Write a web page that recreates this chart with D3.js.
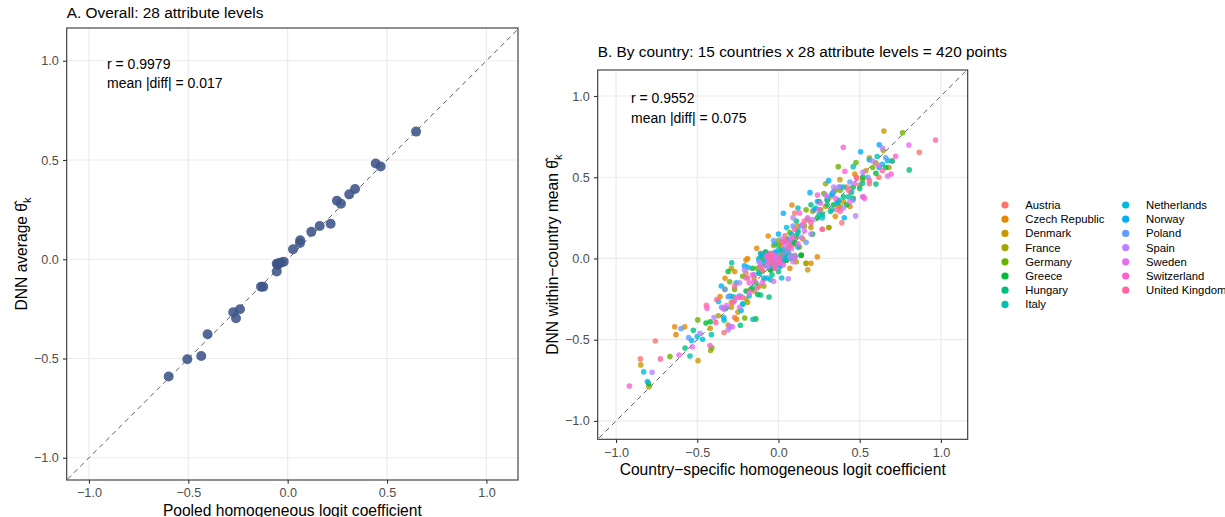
<!DOCTYPE html>
<html><head><meta charset="utf-8">
<script src="https://cdn.jsdelivr.net/npm/d3@7"></script>
<style>
body{margin:0;background:#fff;}
svg{display:block;font-family:"Liberation Sans",Arial,Helvetica,sans-serif;}
</style></head><body>
<svg id="chart" width="1225" height="517"></svg>
<script>
// ---------------- DATA ----------------
const countries = ["Austria","Czech Republic","Denmark","France","Germany","Greece","Hungary","Italy",
  "Netherlands","Norway","Poland","Spain","Sweden","Switzerland","United Kingdom"];
const countryColors = ["#F8766D","#E58700","#C99800","#A3A500","#6BB100","#00BA38","#00BF7D","#00C0AF",
  "#00BCD8","#00B0F6","#619CFF","#B983FF","#E76BF3","#FD61D1","#FF67A4"];

// Panel A: 28 attribute levels (pooled logit coefficient, DNN average)
const pooledX = [-0.599,-0.505,-0.435,-0.403,-0.274,-0.260,-0.240,-0.134,-0.123,-0.055,-0.055,-0.050,-0.045,-0.035,
  -0.020,0.027,0.062,0.063,0.119,0.161,0.216,0.248,0.268,0.310,0.339,0.443,0.468,0.646];
const pooledY = [-0.591,-0.504,-0.487,-0.378,-0.267,-0.297,-0.252,-0.138,-0.138,-0.062,-0.022,-0.028,-0.020,-0.017,
  -0.012,0.050,0.082,0.096,0.138,0.168,0.179,0.295,0.280,0.327,0.354,0.482,0.467,0.643];

// Panel B: one row per attribute level, one value per country (order of `countries`)
const levelX = [
 [-0.850,-0.631,-0.848,-0.797,-0.668,-0.800,-0.524,-0.545,-0.830,-0.807,-0.600,-0.778,-0.612,-0.918,-0.727],
 [-0.758,-0.639,-0.495,-0.418,-0.497,-0.446,-0.575,-0.413,-0.500,-0.535,-0.553,-0.483,-0.530,-0.422,-0.385],
 [-0.335,-0.577,-0.420,-0.370,-0.410,-0.420,-0.235,-0.335,-0.467,-0.337,-0.300,-0.310,-0.283,-0.440,-0.444],
 [-0.270,-0.257,-0.290,-0.190,-0.208,-0.140,-0.280,-0.157,-0.370,-0.300,-0.310,-0.397,-0.320,-0.260,-0.380],
 [-0.190,-0.360,-0.290,-0.170,-0.270,-0.200,-0.058,-0.325,-0.220,-0.352,-0.240,-0.270,-0.340,-0.240,-0.220],
 [-0.330,-0.310,-0.250,-0.330,-0.300,-0.128,-0.110,-0.220,-0.180,-0.230,-0.350,-0.300,-0.240,-0.180,-0.280],
 [-0.150,-0.329,-0.200,-0.290,-0.220,-0.310,-0.160,-0.288,-0.260,-0.190,-0.330,-0.240,-0.180,-0.200,-0.270],
 [-0.090,-0.270,-0.120,-0.090,-0.130,-0.050,-0.040,-0.120,-0.090,-0.070,-0.150,-0.210,-0.030,-0.150,-0.110],
 [-0.200,-0.200,-0.150,-0.170,-0.100,-0.080,-0.140,-0.050,0.020,-0.210,-0.060,0.060,-0.100,-0.160,-0.130],
 [-0.040,0.070,0.180,0.170,-0.050,0.050,0.000,-0.120,-0.080,0.100,-0.030,-0.070,0.090,-0.020,-0.100],
 [-0.060,0.200,-0.010,-0.100,0.050,0.140,-0.020,-0.090,-0.030,-0.050,-0.110,-0.040,-0.070,-0.010,-0.040],
 [0.000,-0.190,-0.060,-0.020,-0.100,0.030,-0.120,-0.010,-0.060,0.020,-0.080,0.010,-0.030,-0.050,-0.020],
 [-0.030,-0.134,0.040,-0.080,-0.040,-0.160,0.060,-0.110,0.010,-0.100,0.030,-0.120,0.100,-0.030,-0.060],
 [0.050,-0.040,-0.090,0.020,-0.070,0.080,-0.080,0.040,-0.120,0.010,-0.020,0.070,-0.060,0.010,0.010],
 [-0.110,0.030,0.100,0.110,0.010,-0.030,0.020,0.070,0.050,-0.020,0.060,-0.010,0.030,-0.070,-0.050],
 [0.020,-0.063,0.060,-0.030,0.100,0.140,0.050,-0.020,0.050,0.000,0.040,0.020,0.080,0.030,0.070],
 [0.100,0.020,0.090,0.030,0.000,0.110,0.080,0.060,0.120,0.100,-0.030,0.050,0.070,0.090,0.040],
 [0.040,0.083,0.130,0.000,0.070,0.100,0.110,0.120,0.000,0.030,0.140,0.090,0.120,0.060,0.100],
 [0.100,0.150,0.200,0.180,0.160,0.210,0.120,0.120,0.080,0.220,0.170,0.140,0.150,0.130,0.200],
 [0.270,0.120,0.210,0.310,0.170,0.240,0.200,0.250,0.230,0.194,0.090,0.200,0.180,0.240,0.160],
 [0.390,0.239,0.170,0.140,0.260,0.250,0.300,0.300,0.270,0.240,0.100,0.210,0.160,0.250,0.270],
 [0.370,0.350,0.310,0.310,0.280,0.340,0.320,0.330,0.360,0.405,0.300,0.475,0.260,0.350,0.380],
 [0.340,0.290,0.380,0.350,0.300,0.460,0.270,0.430,0.370,0.330,0.520,0.340,0.290,0.520,0.360],
 [0.480,0.400,0.446,0.290,0.380,0.420,0.370,0.400,0.330,0.309,0.460,0.400,0.440,0.530,0.430],
 [0.420,0.440,0.378,0.518,0.368,0.460,0.400,0.460,0.450,0.380,0.340,0.370,0.470,0.409,0.481],
 [0.618,0.500,0.538,0.600,0.477,0.600,0.600,0.518,0.559,0.506,0.550,0.520,0.616,0.399,0.560],
 [0.560,0.470,0.649,0.645,0.580,0.520,0.500,0.608,0.672,0.620,0.440,0.580,0.672,0.694,0.640],
 [0.867,0.700,0.560,0.680,0.764,0.660,0.805,0.700,0.640,0.620,0.660,0.640,0.803,0.721,0.967]
];
const levelY = [
 [-0.618,-0.469,-0.655,-0.789,-0.604,-0.770,-0.442,-0.600,-0.698,-0.758,-0.432,-0.700,-0.594,-0.785,-0.618],
 [-0.508,-0.420,-0.629,-0.567,-0.378,-0.397,-0.551,-0.469,-0.480,-0.505,-0.487,-0.460,-0.543,-0.536,-0.395],
 [-0.456,-0.421,-0.430,-0.353,-0.550,-0.390,-0.411,-0.380,-0.497,-0.364,-0.420,-0.440,-0.420,-0.306,-0.288],
 [-0.364,-0.374,-0.270,-0.270,-0.366,-0.372,-0.236,-0.374,-0.265,-0.232,-0.236,-0.364,-0.290,-0.240,-0.253],
 [-0.120,-0.235,-0.300,-0.190,-0.190,-0.200,-0.237,-0.307,-0.280,-0.169,-0.230,-0.260,-0.310,-0.240,-0.240],
 [-0.310,-0.410,-0.330,-0.190,-0.143,-0.220,-0.225,-0.280,-0.230,-0.320,-0.300,-0.420,-0.300,-0.150,-0.270],
 [-0.200,-0.122,-0.250,-0.060,-0.110,-0.080,-0.180,-0.026,-0.150,-0.055,-0.190,-0.150,-0.210,-0.120,-0.170],
 [-0.130,-0.080,-0.170,-0.170,-0.060,-0.070,-0.100,-0.090,-0.120,-0.120,-0.100,-0.070,-0.140,-0.140,-0.050],
 [-0.090,-0.010,-0.120,-0.190,-0.080,-0.040,-0.150,-0.130,-0.120,-0.045,-0.050,-0.125,-0.150,-0.100,-0.180],
 [-0.030,-0.060,-0.070,-0.030,-0.070,-0.010,-0.080,-0.090,-0.020,0.010,-0.040,-0.050,-0.020,-0.060,-0.070],
 [0.000,-0.030,0.010,0.020,0.020,0.020,-0.030,-0.020,0.010,-0.010,-0.040,0.030,-0.030,-0.020,-0.020],
 [0.020,0.000,-0.040,-0.050,0.010,-0.020,0.000,0.010,0.030,0.000,0.010,-0.030,0.020,-0.010,-0.040],
 [-0.060,0.063,0.000,0.040,0.000,-0.060,0.020,0.030,-0.040,0.020,0.030,-0.020,0.010,0.010,0.010],
 [-0.010,-0.030,0.000,0.030,-0.040,0.000,0.040,0.000,-0.010,-0.050,0.000,0.010,0.000,-0.030,0.000],
 [0.030,0.010,0.020,-0.020,-0.020,0.030,0.050,0.020,0.000,0.040,0.040,0.010,-0.040,0.020,0.030],
 [0.080,0.138,0.050,0.080,0.090,0.020,0.110,0.090,0.190,0.150,0.060,0.120,0.060,0.100,0.080],
 [0.120,0.100,0.090,0.050,0.080,0.140,0.100,0.120,0.070,0.010,0.110,0.090,0.110,0.130,0.110],
 [0.140,0.329,0.070,0.110,0.160,0.100,0.230,0.160,0.050,0.278,0.200,0.250,0.090,0.070,0.180],
 [0.280,0.120,0.190,0.240,0.200,0.150,0.170,0.310,0.150,0.300,0.100,0.130,0.210,0.280,0.220],
 [0.180,0.200,0.290,0.190,0.300,0.250,0.330,0.270,0.310,0.405,0.200,0.150,0.250,0.390,0.230],
 [0.220,0.010,-0.030,0.020,0.300,0.350,0.330,0.360,0.250,0.350,0.010,0.240,0.170,0.300,0.180],
 [0.320,0.260,0.370,0.190,0.400,0.330,0.290,0.300,0.340,0.251,0.380,0.262,0.340,0.370,0.290],
 [0.410,0.320,0.320,0.420,0.360,0.370,0.270,0.380,0.360,0.390,0.380,0.440,0.390,0.380,0.300],
 [0.500,0.350,0.405,0.460,0.420,0.330,0.350,0.440,0.400,0.479,0.360,0.310,0.350,0.370,0.420],
 [0.440,0.320,0.485,0.483,0.565,0.440,0.380,0.565,0.410,0.440,0.410,0.440,0.460,0.536,0.493],
 [0.500,0.450,0.540,0.588,0.590,0.524,0.458,0.463,0.608,0.657,0.500,0.530,0.573,0.684,0.480],
 [0.460,0.520,0.785,0.664,0.560,0.500,0.430,0.627,0.602,0.560,0.470,0.600,0.508,0.520,0.540],
 [0.653,0.600,0.620,0.560,0.774,0.560,0.545,0.600,0.580,0.700,0.620,0.680,0.698,0.629,0.729]
];

const tickValues = [-1, -0.5, 0, 0.5, 1];
const titleA = "A. Overall: 28 attribute levels";
const titleB = "B. By country: 15 countries x 28 attribute levels = 420 points";
const statsA = ["r = 0.9979", "mean |diff| = 0.017"];
const statsB = ["r = 0.9552", "mean |diff| = 0.075"];
const xTitleA = "Pooled homogeneous logit coefficient";
const xTitleB = "Country\u2212specific homogeneous logit coefficient";
const yTitleA = "DNN average ";
const yTitleB = "DNN within\u2212country mean ";

// ---------------- DRAW ----------------
const svg = d3.select("#chart");
svg.append("rect").attr("width",1225).attr("height",517).attr("fill","#fff");
const fmt = d3.format(".1f");

function panel(id, box, dom, o) {
  const x = d3.scaleLinear().domain(dom.x).range([box.l, box.r]);
  const y = d3.scaleLinear().domain(dom.y).range([box.b, box.t]);
  const g = svg.append("g");
  svg.append("clipPath").attr("id", id).append("rect")
    .attr("x", box.l).attr("y", box.t).attr("width", box.r - box.l).attr("height", box.b - box.t);
  // grid
  g.selectAll(".gx").data(tickValues).join("line")
    .attr("x1", d => x(d)).attr("x2", d => x(d)).attr("y1", box.t).attr("y2", box.b)
    .attr("stroke", "#EBEBEB").attr("stroke-width", 1.2);
  g.selectAll(".gy").data(tickValues).join("line").attr("class","gy")
    .attr("y1", d => y(d)).attr("y2", d => y(d)).attr("x1", box.l).attr("x2", box.r)
    .attr("stroke", "#EBEBEB").attr("stroke-width", 1.2);
  const inner = g.append("g").attr("clip-path", `url(#${id})`);
  inner.append("line")
    .attr("x1", x(-1.3)).attr("y1", y(-1.3)).attr("x2", x(1.3)).attr("y2", y(1.3))
    .attr("stroke", "#5E5E5E").attr("stroke-width", 1).attr("stroke-dasharray", "5,4");
  o.points(inner, x, y);
  g.append("rect").attr("x", box.l).attr("y", box.t).attr("width", box.r - box.l).attr("height", box.b - box.t)
    .attr("fill", "none").attr("stroke", "#333").attr("stroke-width", 1.1);
  // axes
  const ax = g.append("g").attr("transform", `translate(0,${box.b})`)
    .call(d3.axisBottom(x).tickValues(tickValues).tickFormat(fmt).tickSize(3.7).tickPadding(4.6));
  const ay = g.append("g").attr("transform", `translate(${box.l},0)`)
    .call(d3.axisLeft(y).tickValues(tickValues).tickFormat(fmt).tickSize(3.7).tickPadding(4.2));
  [ax, ay].forEach(a => {
    a.select(".domain").remove();
    a.selectAll(".tick line").attr("stroke", "#333").attr("stroke-width", 1.1);
    a.selectAll("text").attr("fill", "#4D4D4D").style("font-size", "12.6px")
      .style("font-family", "'Liberation Sans',Arial,sans-serif");
  });
  // title
  svg.append("text").attr("x", box.l).attr("y", o.titleY).text(o.title)
    .style("font-size", "15.4px").attr("fill", "#000");
  // stats
  o.stats.forEach((s, i) => svg.append("text").attr("x", o.statsX).attr("y", o.statsY + i * 19.5)
    .text(s).style("font-size", "14px").attr("fill", "#000"));
  // x title
  svg.append("text").attr("x", (box.l + box.r) / 2).attr("y", box.b + 35.5).attr("text-anchor", "middle")
    .text(o.xTitle).style("font-size", "15.6px").attr("fill", "#000");
  // y title
  const yt = svg.append("text").attr("transform", `translate(${box.l - 39.5},${(box.t + box.b) / 2}) rotate(-90)`)
    .attr("text-anchor", "middle").style("font-size", "15.6px").attr("fill", "#000");
  yt.append("tspan").text(o.yTitle + "\u03B8\u0302");
  yt.append("tspan").attr("dy", 4).style("font-size", "11px").text("k");
}

panel("clipA", {l: 66.7, r: 518, t: 28, b: 480}, {x: [-1.112, 1.159], y: [-1.112, 1.165]}, {
  title: titleA, titleY: 17.5, stats: statsA, statsX: 107, statsY: 68.5,
  xTitle: xTitleA, yTitle: yTitleA,
  points: (gg, x, y) => {
    gg.selectAll("circle").data(pooledX.map((v, i) => [v, pooledY[i]])).join("circle")
      .attr("cx", d => x(d[0])).attr("cy", d => y(d[1])).attr("r", 5)
      .attr("fill", "#3C5488").attr("fill-opacity", 0.88);
  }
});

panel("clipB", {l: 597.7, r: 967.7, t: 70, b: 439.3}, {x: [-1.113, 1.165], y: [-1.113, 1.160]}, {
  title: titleB, titleY: 57, stats: statsB, statsX: 631, statsY: 103,
  xTitle: xTitleB, yTitle: yTitleB,
  points: (gg, x, y) => {
    const pts = [];
    countries.forEach((c, ci) => levelX.forEach((row, li) => pts.push([row[ci], levelY[li][ci], ci])));
    gg.selectAll("circle").data(pts).join("circle")
      .attr("cx", d => x(d[0])).attr("cy", d => y(d[1])).attr("r", 2.8)
      .attr("fill", d => countryColors[d[2]]).attr("fill-opacity", 0.8);
  }
});

// legend
const leg = svg.append("g");
countries.forEach((c, i) => {
  const col = i < 8 ? 0 : 1, row = i < 8 ? i : i - 8;
  const cx = col === 0 ? 1005 : 1125.7, cy = 205 + row * 14.2;
  leg.append("circle").attr("cx", cx).attr("cy", cy).attr("r", 3.6).attr("fill", countryColors[i]);
  leg.append("text").attr("x", cx + 20.3).attr("y", cy).attr("dy", "0.35em").text(c)
    .style("font-size", "11.3px").attr("fill", "#000");
});
</script>
</body></html>
